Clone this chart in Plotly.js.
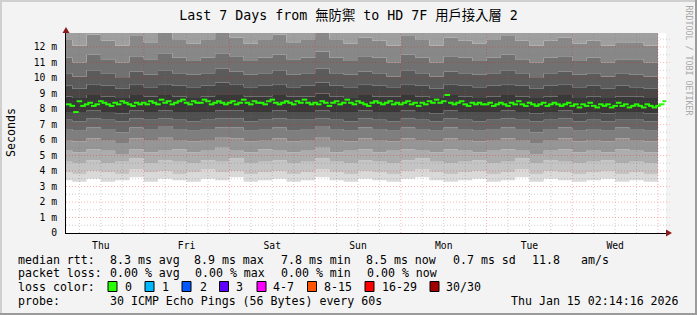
<!DOCTYPE html>
<html><head><meta charset="utf-8">
<script src="https://cdn.plot.ly/plotly-3.0.1.min.js"></script>
<style>
html,body{margin:0;padding:0;background:#f3f3f3;}
#wrap{position:relative;width:697px;height:315px;overflow:hidden;}
#chart{width:697px;height:315px;}
.b{position:absolute;pointer-events:none;}
</style></head><body>
<div id="wrap"><div id="chart"></div>
<div class="b" style="left:0;top:0;width:697px;height:2px;background:#cfcfcf"></div>
<div class="b" style="left:0;top:0;width:2px;height:315px;background:#cfcfcf"></div>
<div class="b" style="left:0;top:313px;width:697px;height:2px;background:#9b9b9b"></div>
<div class="b" style="left:695px;top:0;width:2px;height:315px;background:#9b9b9b"></div>
</div>
<script>
// ---------------- DATA ----------------
const chartTitle = 'Last 7 Days from 無防禦 to HD 7F 用戶接入層 2';
const rangeStart = '2026-01-08 02:14:16';
const rangeEnd   = '2026-01-15 02:14:16';

const dayLabels = ['Thu','Fri','Sat','Sun','Mon','Tue','Wed'];
const dayNoons  = ['2026-01-08 12:00','2026-01-09 12:00','2026-01-10 12:00','2026-01-11 12:00','2026-01-12 12:00','2026-01-13 12:00','2026-01-14 12:00'];

const yTickVals = [0,1,2,3,4,5,6,7,8,9,10,11,12];
const yTickText = ['0','1 m','2 m','3 m','4 m','5 m','6 m','7 m','8 m','9 m','10 m','11 m','12 m'];

// median RTT (ms), hourly from 2026-01-08 03:00
const medianStart = '2026-01-08 03:00';
const medianRtt = [
 8.3,8.2,7.8,8.5,8.2,8.3,8.4,8.2,8.3,8.5,8.4,8.3,8.2,8.4,8.3,8.5,8.4,8.3,8.2,8.4,8.3,
 8.4,8.3,8.5,8.4,8.3,8.6,8.4,8.5,8.3,8.4,8.5,8.6,8.4,8.3,8.5,8.4,8.4,8.6,8.5,8.3,8.4,8.5,8.4,8.3,
 8.4,8.5,8.3,8.4,8.6,8.4,8.3,8.5,8.4,8.4,8.3,8.5,8.6,8.4,8.3,8.4,8.5,8.4,8.3,8.5,8.4,8.6,8.4,8.3,
 8.4,8.3,8.5,8.4,8.2,8.4,8.5,8.3,8.4,8.6,8.4,8.3,8.5,8.4,8.3,8.2,8.4,8.5,8.4,8.3,8.4,8.5,8.3,8.4,
 8.3,8.4,8.5,8.3,8.4,8.2,8.4,8.3,8.5,8.4,8.6,8.4,8.5,8.9,8.4,8.3,8.4,8.5,8.3,8.2,8.4,8.3,8.4,8.3,
 8.3,8.4,8.2,8.3,8.4,8.3,8.2,8.4,8.3,8.5,8.3,8.2,8.4,8.3,8.2,8.3,8.4,8.2,8.3,8.4,8.3,8.2,8.3,8.4,
 8.2,8.3,8.1,8.3,8.2,8.4,8.2,8.1,8.3,8.2,8.3,8.1,8.2,8.4,8.2,8.3,8.1,8.2,8.3,8.2,8.1,8.3,8.2,8.1,
 8.2,8.3,8.5
];

// smoke (sorted ping rtt boundaries, ms), every 4 h from 2026-01-08 00:00
const smokeStart = '2026-01-08 00:00';
const smokeMin = [3.4,3.3,3.5,3.3,3.4,3.6,3.3,3.5,3.4,3.3,3.5,3.4,3.6,3.3,3.4,3.5,3.3,3.4,3.6,3.4,3.3,3.5,3.4,3.3,3.5,3.6,3.4,3.3,3.4,3.5,3.3,3.4,3.6,3.3,3.5,3.4,3.3,3.4,3.5,3.3,3.4,3.3,3.4];
const smokeB1  = [3.9,3.8,4.0,3.9,3.8,4.1,3.9,4.0,3.8,3.9,4.1,3.9,4.0,3.8,3.9,4.0,3.8,3.9,4.1,3.9,3.8,4.0,3.9,3.8,4.0,4.1,3.9,3.8,3.9,4.0,3.8,3.9,4.1,3.8,4.0,3.9,3.8,3.9,4.0,3.8,3.9,3.8,3.9];
const smokeB2  = [4.6,4.5,4.7,4.5,4.6,4.8,4.5,4.7,4.6,4.5,4.7,4.6,4.8,4.5,4.6,4.7,4.5,4.6,4.8,4.6,4.5,4.7,4.6,4.5,4.7,4.8,4.6,4.5,4.6,4.7,4.5,4.6,4.8,4.5,4.7,4.6,4.5,4.6,4.7,4.5,4.6,4.5,4.6];
const smokeB3  = [5.3,5.2,5.4,5.3,5.1,5.4,5.2,5.3,5.4,5.2,5.3,5.5,5.3,5.2,5.4,5.3,5.2,5.3,5.5,5.2,5.3,5.4,5.2,5.3,5.4,5.3,5.2,5.4,5.3,5.2,5.3,5.4,5.3,5.1,5.3,5.4,5.2,5.3,5.2,5.4,5.3,5.2,5.3];
const smokeB4  = [6.0,5.9,6.1,6.0,5.8,6.1,6.0,6.2,6.0,5.9,6.0,6.2,6.1,5.9,6.0,6.1,5.9,6.0,6.2,6.0,5.9,6.1,6.0,5.9,6.1,6.0,5.9,6.1,6.0,5.9,6.0,6.1,6.0,5.8,6.0,6.1,5.9,6.0,5.9,6.1,6.0,5.9,6.0];
const smokeB5  = [6.7,6.6,6.8,6.7,6.5,6.8,6.7,6.9,6.7,6.6,6.7,6.8,6.8,6.6,6.7,6.8,6.6,6.7,6.9,6.7,6.6,6.8,6.7,6.6,6.8,6.7,6.6,6.8,6.7,6.6,6.7,6.8,6.7,6.5,6.7,6.8,6.6,6.7,6.6,6.8,6.7,6.6,6.7];
const smokeB6  = [7.3,7.2,7.4,7.3,7.2,7.4,7.3,7.4,7.3,7.2,7.3,7.4,7.4,7.2,7.3,7.4,7.3,7.3,7.4,7.3,7.2,7.4,7.3,7.2,7.4,7.3,7.2,7.4,7.3,7.2,7.3,7.4,7.3,7.2,7.3,7.4,7.2,7.3,7.2,7.3,7.3,7.2,7.3];
const smokeB7  = [7.8,7.8,7.9,7.8,7.7,7.9,7.8,7.9,7.8,7.8,7.8,7.9,7.9,7.8,7.8,7.9,7.8,7.8,7.9,7.8,7.8,7.9,7.8,7.8,7.9,7.8,7.7,7.9,7.8,7.8,7.8,7.9,7.8,7.7,7.8,7.9,7.7,7.8,7.7,7.8,7.8,7.7,7.8];
const smokeB8  = [8.8,8.7,8.9,8.8,8.7,8.9,8.8,8.9,8.8,8.7,8.8,8.9,8.9,8.8,8.8,8.9,8.8,8.8,9.0,8.8,8.7,8.9,8.8,8.8,8.9,8.8,8.7,8.9,8.8,8.7,8.8,8.9,8.8,8.7,8.8,8.9,8.7,8.8,8.7,8.8,8.8,8.7,8.8];
const smokeB9  = [9.5,9.3,9.6,9.5,9.3,9.6,9.4,9.6,9.5,9.4,9.5,9.7,9.6,9.4,9.5,9.6,9.4,9.5,9.7,9.5,9.4,9.6,9.5,9.4,9.6,9.5,9.3,9.6,9.5,9.4,9.5,9.6,9.5,9.3,9.5,9.6,9.4,9.5,9.3,9.5,9.4,9.3,9.4];
const smokeB10 = [10.3,10.1,10.5,10.3,10.0,10.4,10.2,10.5,10.3,10.2,10.3,10.6,10.4,10.2,10.3,10.5,10.2,10.3,10.6,10.3,10.2,10.4,10.3,10.1,10.5,10.3,10.1,10.4,10.3,10.2,10.3,10.5,10.3,10.0,10.3,10.4,10.2,10.3,10.1,10.3,10.2,10.1,10.2];
const smokeB11 = [11.3,11.0,11.5,11.2,11.0,11.4,11.2,11.6,11.3,11.1,11.3,11.6,11.4,11.1,11.3,11.5,11.2,11.3,11.7,11.3,11.1,11.4,11.3,11.0,11.5,11.3,11.0,11.4,11.3,11.1,11.3,11.5,11.2,11.0,11.3,11.4,11.1,11.3,11.0,11.2,11.2,11.0,11.1];
const smokeB12 = [12.5,12.1,12.8,12.4,12.1,12.7,12.3,12.9,12.5,12.2,12.5,12.9,12.6,12.2,12.5,12.8,12.3,12.5,13.0,12.5,12.2,12.6,12.4,12.1,12.7,12.5,12.1,12.6,12.4,12.2,12.5,12.7,12.4,12.1,12.4,12.6,12.2,12.4,12.1,12.3,12.3,12.1,12.2];
const smokeMax = [20,19,22,21,18,23,20,24,21,19,20,23,22,19,21,22,20,21,24,20,19,22,21,19,22,21,18,22,20,19,21,22,20,18,21,22,19,20,18,20,20,19,20];

// legend texts
const medianStats = ['8.3 ms avg','8.9 ms max','7.8 ms min','8.5 ms now','0.7 ms sd','11.8','am/s'];
const lossStats   = ['0.00 % avg','0.00 % max','0.00 % min','0.00 % now'];
const lossLabels  = ['0','1','2','3','4-7','8-15','16-29','30/30'];
const lossColors  = ['#26ff00','#00b8ff','#0059ff','#5e00ff','#ff00ff','#ff5500','#ff0000','#a10000'];
const probeText   = '30 ICMP Echo Pings (56 Bytes) every 60s';
const stampText   = 'Thu Jan 15 02:14:16 2026';

// ---------------- STYLE / LAYOUT ----------------
const MONO = 'DejaVu Sans Mono, Noto Sans CJK TC, monospace';
const L = 66, T = 33, PW = 600, PH = 200;
const X = px => (px - L) / PW;
const Y = py => (T + PH - py) / PH;

function timeSeries(start, n, stepH) {
  const t0 = Date.parse(start.replace(' ', 'T') + ':00Z');
  const out = [];
  for (let i = 0; i < n; i++) out.push(new Date(t0 + i * stepH * 3600000).toISOString().slice(0, 19).replace('T', ' '));
  return out;
}
const smokeT = timeSeries(smokeStart, smokeMin.length, 4);
const medT = timeSeries(medianStart, medianRtt.length, 1);

const bounds = [smokeMin, smokeB1, smokeB2, smokeB3, smokeB4, smokeB5, smokeB6, smokeB7, smokeB8, smokeB9, smokeB10, smokeB11, smokeB12, smokeMax];
const shades = ['#d9d9d9','#c4c4c4','#adadad','#969696','#7f7f7f','#676767','#4f4f4f','#383838','#474747','#5b5b5b','#717171','#888888','#9f9f9f'];

const traces = bounds.map((b, i) => ({
  x: smokeT, y: b, type: 'scatter', mode: 'lines',
  line: {width: 0, shape: 'hv', color: i ? shades[i-1] : '#fff'},
  fill: i ? 'tonexty' : 'none', fillcolor: i ? shades[i-1] : undefined,
  hoverinfo: 'skip'
}));
traces.push({
  x: medT, y: medianRtt, type: 'scatter', mode: 'markers',
  marker: {symbol: 'line-ew', size: 4, color: lossColors[0], line: {color: lossColors[0], width: 2}},
  hoverinfo: 'skip'
});

// grid (drawn above the smoke like rrdtool)
const shapes = [];
const MAJ = 'rgba(255,0,0,0.3)', MIN = 'rgba(120,120,120,0.35)';
for (let v = 0.5; v < 12.9; v += 0.5) {
  shapes.push({type:'line', xref:'paper', yref:'y', x0:0, x1:1.006, y0:v, y1:v, layer:'above',
    line:{color: (v % 1 === 0) ? MAJ : MIN, width:1, dash:'1px,2px'}});
}
const gT0 = Date.parse('2026-01-08T06:00:00Z');
for (let t = gT0; t <= Date.parse('2026-01-15T00:00:00Z'); t += 6 * 3600000) {
  const s = new Date(t).toISOString().slice(0, 19).replace('T', ' ');
  const major = new Date(t).getUTCHours() === 0;
  shapes.push({type:'line', xref:'x', yref:'paper', x0:s, x1:s, y0:0, y1:1, layer:'above',
    line:{color: major ? MAJ : MIN, width:1, dash:'1px,2px'}});
}
// axis arrows
shapes.push({type:'path', xref:'paper', yref:'paper', xsizemode:'pixel', ysizemode:'pixel', xanchor:1, yanchor:0,
  path:'M 0 -3.5 L 6 0 L 0 3.5 Z', fillcolor:'#8b1a1a', line:{width:0}, layer:'above'});
shapes.push({type:'path', xref:'paper', yref:'paper', xsizemode:'pixel', ysizemode:'pixel', xanchor:0, yanchor:1,
  path:'M -3.5 0 L 0 6 L 3.5 0 Z', fillcolor:'#8b1a1a', line:{width:0}, layer:'above'});

// legend annotations
const annotations = [];
function txt(px, py, text, extra) {
  annotations.push(Object.assign({xref:'paper', yref:'paper', x:X(px), y:Y(py), xanchor:'left', yanchor:'middle',
    text:text, showarrow:false, font:{family:MONO, size:11.6, color:'#000'}}, extra || {}));
}
const rowY = [259.5, 273, 286.5, 300.5];
const medianX = [107.6, 192.4, 279, 364.4, 451, 530.2, 579];
const lossX = [107.6, 193.3, 279, 365];
const boxX = [108, 145, 182, 219.5, 257, 307.5, 365, 430];
const labX = [123, 160, 198, 234, 271, 322, 380, 444];
txt(16.4, rowY[0], 'median rtt:');
medianStats.forEach((s, i) => txt(medianX[i], rowY[0], s));
txt(16.4, rowY[1], 'packet loss:');
lossStats.forEach((s, i) => txt(lossX[i], rowY[1], s));
txt(16.4, rowY[2], 'loss color:');
lossLabels.forEach((s, i) => {
  txt(labX[i], rowY[2], s);
  shapes.push({type:'rect', xref:'paper', yref:'paper', x0:X(boxX[i]), x1:X(boxX[i] + 9), y0:Y(rowY[2] + 5), y1:Y(rowY[2] - 5),
    fillcolor: lossColors[i], line:{color:'#000', width:1}, layer:'above'});
});
txt(16.4, rowY[3], 'probe:');
txt(107.6, rowY[3], probeText);
txt(681, rowY[3], stampText, {xanchor:'right'});
// axis title & watermark
txt(10.5, 132.5, 'Seconds', {xanchor:'center', textangle:-90});
txt(688.5, 60, 'RRDTOOL / TOBI OETIKER', {xanchor:'center', textangle:90, font:{family:MONO, size:8.3, color:'#a8a8a8'}});

const layout = {
  width: 697, height: 315,
  margin: {l: L, r: 697 - L - PW, t: T, b: 315 - T - PH, pad: 0},
  paper_bgcolor: '#f3f3f3', plot_bgcolor: '#ffffff',
  showlegend: false, hovermode: false,
  title: {text: chartTitle, font: {family: MONO, size: 13.3, color: '#000'},
          x: 0.5, xref: 'container', xanchor: 'center', y: 1 - 15 / 315, yref: 'container', yanchor: 'middle'},
  xaxis: {type: 'date', range: [rangeStart, rangeEnd], tickmode: 'array', tickvals: dayNoons, ticktext: dayLabels,
          showgrid: false, zeroline: false, showline: true, linecolor: '#000', linewidth: 1, ticks: '',
          ticklabelstandoff: 3, tickfont: {family: MONO, size: 9.7, color: '#000'}, fixedrange: true},
  yaxis: {range: [0, 12.9], tickmode: 'array', tickvals: yTickVals, ticktext: yTickText,
          showgrid: false, zeroline: false, showline: true, linecolor: '#000', linewidth: 1, ticks: '',
          ticklabelstandoff: 6, tickfont: {family: MONO, size: 9.7, color: '#000'}, fixedrange: true},
  shapes: shapes, annotations: annotations
};
Plotly.newPlot('chart', traces, layout, {staticPlot: true, displayModeBar: false});
</script>
</body></html>
